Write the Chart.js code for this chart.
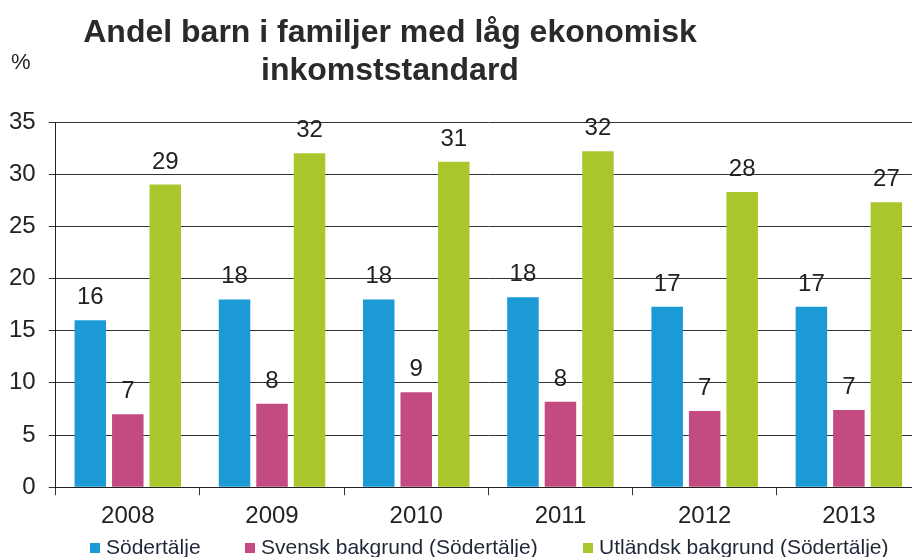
<!DOCTYPE html>
<html>
<head>
<meta charset="utf-8">
<script src="https://cdn.jsdelivr.net/npm/chart.js@4.4.1/dist/chart.umd.min.js"></script>
<style>
  html, body { margin:0; padding:0; background:#fff; overflow:hidden; width:912px; height:557px; }
  #wrap { position:absolute; left:0; top:0; width:925px; height:557px; }
  #title { position:absolute; left:-10px; top:12px; width:800px; text-align:center;
           font-family:"Liberation Sans", Arial, sans-serif; font-weight:bold; font-size:32px;
           line-height:38px; color:#2a2a2a; }
  #unit { position:absolute; left:11px; top:49px; font-family:"Liberation Sans", Arial, sans-serif;
          font-size:22px; color:#222; }
  .lg { position:absolute; top:535px; font-family:"Liberation Sans", Arial, sans-serif; font-size:21px;
        color:#1f2636; white-space:nowrap; line-height:24px; }
  .lg i { display:inline-block; width:10px; height:10px; margin-right:6px; vertical-align:1px; }
</style>
</head>
<body>
<div id="wrap"><canvas id="c" width="925" height="557"></canvas></div>
<div id="title">Andel barn i familjer med låg ekonomisk<br>inkomststandard</div>
<div id="unit">%</div>
<div id="legend"></div>
<script>
const categories = ["2008", "2009", "2010", "2011", "2012", "2013"];
const seriesNames = ["Södertälje", "Svensk bakgrund (Södertälje)", "Utländsk bakgrund (Södertälje)"];
const sodertalje = [16.0, 18.0, 18.0, 18.2, 17.3, 17.3];
const svensk = [7.0, 8.0, 9.1, 8.2, 7.3, 7.4];
const utlandsk = [29.0, 32.0, 31.2, 32.2, 28.3, 27.3];
const yTicks = [0, 5, 10, 15, 20, 25, 30, 35];
const colors = ["#1b9ad6", "#c44a82", "#a9c62c"];
const legendLeft = [90, 245, 583];

const valueLabels = {
  id: 'valueLabels',
  afterDatasetsDraw(chart) {
    const ctx = chart.ctx;
    ctx.save();
    ctx.font = '24px "Liberation Sans", Arial, sans-serif';
    ctx.fillStyle = '#222';
    ctx.textAlign = 'center';
    ctx.textBaseline = 'alphabetic';
    chart.data.datasets.forEach((ds, i) => {
      chart.getDatasetMeta(i).data.forEach((bar, j) => {
        ctx.fillText(String(Math.round(ds.data[j])), bar.x, bar.y - 16);
      });
    });
    ctx.restore();
  }
};

new Chart(document.getElementById('c'), {
  type: 'bar',
  data: {
    labels: categories,
    datasets: [
      { label: seriesNames[0], data: sodertalje, backgroundColor: colors[0] },
      { label: seriesNames[1], data: svensk, backgroundColor: colors[1] },
      { label: seriesNames[2], data: utlandsk, backgroundColor: colors[2] }
    ]
  },
  options: {
    responsive: false,
    animation: false,
    devicePixelRatio: 1,
    layout: { padding: { top: 122, left: -4, right: 4, bottom: 19 } },
    datasets: { bar: { categoryPercentage: 0.78, barPercentage: 0.84, borderWidth: 0 } },
    plugins: { legend: { display: false }, title: { display: false }, tooltip: { enabled: false } },
    scales: {
      x: {
        grid: { offset: true, drawOnChartArea: false, drawTicks: true, tickLength: 8, color: '#333' },
        border: { color: '#222', width: 1 },
        ticks: { padding: 7, color: '#222', font: { family: '"Liberation Sans", Arial, sans-serif', size: 24 } }
      },
      y: {
        min: yTicks[0], max: yTicks[yTicks.length - 1],
        afterBuildTicks(axis) { axis.ticks = yTicks.map(v => ({ value: v })); },
        grid: { color: '#333', lineWidth: 1, tickLength: 7 },
        border: { color: '#222', width: 1 },
        ticks: { padding: 13, color: '#222', font: { family: '"Liberation Sans", Arial, sans-serif', size: 24 } }
      }
    }
  },
  plugins: [valueLabels]
});

const lg = document.getElementById('legend');
seriesNames.forEach((n, i) => {
  const d = document.createElement('div');
  d.className = 'lg';
  d.style.left = legendLeft[i] + 'px';
  d.innerHTML = '<i style="background:' + colors[i] + '"></i>' + n;
  lg.appendChild(d);
});
</script>
</body>
</html>
